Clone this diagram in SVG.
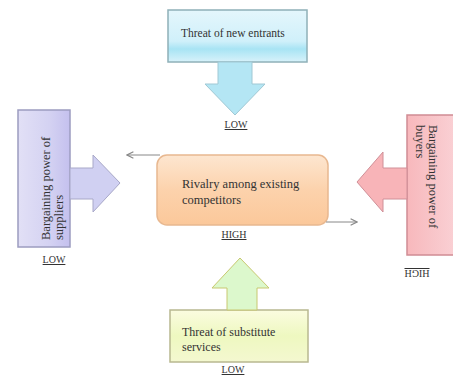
<svg xmlns="http://www.w3.org/2000/svg" width="453" height="375" viewBox="0 0 453 375">
<defs>
<linearGradient id="gBlue" x1="0" y1="0" x2="0" y2="1"><stop offset="0" stop-color="#e4f6fc"/><stop offset="0.6" stop-color="#d0f0fa"/><stop offset="0.75" stop-color="#a8e4f4"/><stop offset="1" stop-color="#d8f2fa"/></linearGradient>
<linearGradient id="gPurple" x1="0" y1="0" x2="1" y2="0"><stop offset="0" stop-color="#e2e0f6"/><stop offset="0.6" stop-color="#d4d2f2"/><stop offset="1" stop-color="#c4c0ee"/></linearGradient>
<linearGradient id="gOrange" x1="0" y1="0" x2="0" y2="1"><stop offset="0" stop-color="#fde6d0"/><stop offset="0.5" stop-color="#fcd2ac"/><stop offset="1" stop-color="#fbc89a"/></linearGradient>
<linearGradient id="gPink" x1="0" y1="0" x2="1" y2="0"><stop offset="0" stop-color="#f8b8bc"/><stop offset="0.5" stop-color="#f8c4c8"/><stop offset="1" stop-color="#fad0d4"/></linearGradient>
<linearGradient id="gYellow" x1="0" y1="0" x2="0" y2="1"><stop offset="0" stop-color="#fbfce0"/><stop offset="0.5" stop-color="#eef8c0"/><stop offset="1" stop-color="#f4f8d0"/></linearGradient>
<marker id="ah" viewBox="0 0 10 10" refX="9" refY="5" markerWidth="8" markerHeight="8" orient="auto"><path d="M1,1 L9,5 L1,9" fill="none" stroke="#888" stroke-width="1.5"/></marker>
</defs>
<style>
.t{font-family:"Liberation Serif","Times New Roman",serif;font-size:11.5px;fill:#333}
.c{font-size:12.5px}
.r{font-size:12.5px}
.lbl{font-family:"Liberation Serif","Times New Roman",serif;font-size:10px;fill:#333;text-decoration:underline}
.conn{fill:none;stroke:#888;stroke-width:1}
</style>
<rect width="453" height="375" fill="#fff"/>

<g id="entrants">
<rect x="168" y="10" width="139" height="52" fill="url(#gBlue)" stroke="#8fb0b8" stroke-width="1.5"/>
<text class="t" x="181" y="37">Threat of new entrants</text>
<path d="M218,62 H252 V84 H265 L235,115 L205,84 H218 Z" fill="#b4e6f4" stroke="#a0c8d4" stroke-width="1"/>
<text class="lbl" x="236" y="128" text-anchor="middle">LOW</text>
</g>

<g id="suppliers">
<rect x="18" y="110" width="52" height="137" fill="url(#gPurple)" stroke="#9c9cc0" stroke-width="1.5"/>
<text class="t r" transform="translate(50,240) rotate(-90)">Bargaining power of</text>
<text class="t r" transform="translate(63,240) rotate(-90)">suppliers</text>
<path d="M70,168 H93 V155 L120,183 L93,212 V199 H70 Z" fill="#d0d0f2" stroke="#a8a8c8" stroke-width="1"/>
<text class="lbl" x="54" y="263" text-anchor="middle">LOW</text>
</g>

<g id="rivalry">
<rect x="157" y="155" width="171" height="70" rx="10" fill="url(#gOrange)" stroke="#e8b890" stroke-width="1.5"/>
<text class="t c" x="182" y="188">Rivalry among existing</text>
<text class="t c" x="182" y="204">competitors</text>
<text class="lbl" x="234" y="238" text-anchor="middle">HIGH</text>
</g>

<g id="buyers">
<rect x="407" y="115" width="48" height="140" fill="url(#gPink)" stroke="#d08c94" stroke-width="1.5"/>
<text class="t r" transform="translate(429,125) rotate(90)">Bargaining power of</text>
<text class="t r" transform="translate(416,125) rotate(90)">buyers</text>
<path d="M407,168 H383 V152 L357,182 L383,212 V199 H407 Z" fill="#f8b4b8" stroke="#d09098" stroke-width="1"/>
<text class="lbl" transform="translate(417,270) rotate(180)" text-anchor="middle">HIGH</text>
</g>

<g id="substitutes">
<rect x="170" y="310" width="138" height="52" fill="url(#gYellow)" stroke="#b8b890" stroke-width="1.5"/>
<text class="t" x="182" y="336" style="font-size:12px">Threat of substitute</text>
<text class="t" x="182" y="351" style="font-size:12px">services</text>
<path d="M227,310 V288 H212 L240,258 L269,288 H257 V310 Z" fill="#dcf8cc" stroke="#c8c870" stroke-width="1"/>
<text class="lbl" x="233" y="373" text-anchor="middle">LOW</text>
</g>

<g id="connectors">
<path class="conn" d="M160,155 H127" marker-end="url(#ah)"/>
<path class="conn" d="M326,222 H357" marker-end="url(#ah)"/>
</g>
</svg>
